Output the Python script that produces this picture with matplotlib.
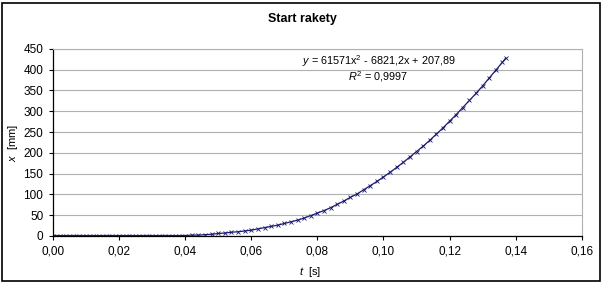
import matplotlib.pyplot as plt
from matplotlib.patches import Rectangle

plt.rcParams['font.family'] = ['Liberation Sans', 'DejaVu Sans']
plt.rcParams['mathtext.fontset'] = 'custom'
plt.rcParams['mathtext.it'] = 'Liberation Sans:italic'
plt.rcParams['mathtext.rm'] = 'Liberation Sans'

# time [s] and height [mm]
t = [0.000, 0.002, 0.004, 0.006, 0.008, 0.010, 0.012, 0.014, 0.016, 0.018,
     0.020, 0.022, 0.024, 0.026, 0.028, 0.030, 0.032, 0.034, 0.036, 0.038,
     0.040, 0.042, 0.044, 0.046, 0.048, 0.050, 0.052, 0.054, 0.056, 0.058,
     0.060, 0.062, 0.064, 0.066, 0.068, 0.070, 0.072, 0.074, 0.076, 0.078,
     0.080, 0.082, 0.084, 0.086, 0.088, 0.090, 0.092, 0.094, 0.096, 0.098,
     0.100, 0.102, 0.104, 0.106, 0.108, 0.110, 0.112, 0.114, 0.116, 0.118,
     0.120, 0.122, 0.124, 0.126, 0.128, 0.130, 0.132, 0.134, 0.136, 0.137]
x = [1, 1, 1, 1, 1, 1, 1, 1, 1, 1,
     1, 1, 1, 1, 1, 1, 1, 1, 1, 1,
     1, 2, 2, 3, 4, 6, 7, 9, 10, 12,
     14, 17, 20, 23, 26, 30, 34, 38, 43, 49,
     55, 61, 68, 76, 84, 93, 101, 111, 121, 131,
     142, 153, 165, 177, 190, 203, 216, 230, 245, 260,
     276, 292, 309, 326, 343, 361, 380, 399, 418, 428]

xticks = [0.00, 0.02, 0.04, 0.06, 0.08, 0.10, 0.12, 0.14, 0.16]
yticks = [0, 50, 100, 150, 200, 250, 300, 350, 400, 450]

fig = plt.figure(figsize=(6.05, 2.86), dpi=100)
ax = fig.add_axes([0.0876, 0.175, 0.874, 0.654])

ax.plot(t, x, color='#1a1a6e', lw=0.9, marker='x', ms=2.2, mew=0.6)

ax.set_xlim(0, 0.16)
ax.set_ylim(0, 450)
ax.set_xticks(xticks)
ax.set_xticklabels([('%.2f' % v).replace('.', ',') for v in xticks])
ax.set_yticks(yticks)
ax.tick_params(labelsize=8.5, length=3, width=0.8, direction='out', pad=4)
ax.yaxis.grid(True, color='#b0b0b0', lw=0.8)
ax.set_axisbelow(True)
for s in ['top', 'right']:
    ax.spines[s].set_color('#b0b0b0')
for s in ['left', 'bottom']:
    ax.spines[s].set_linewidth(0.9)

ax.set_xlabel('$t$  [s]', fontsize=8)
ax.set_ylabel('$x$  [mm]', fontsize=8)
ax.xaxis.set_label_coords(0.487, -0.155)
ax.yaxis.set_label_coords(-0.062, 0.5)

fig.text(0.5, 0.935, 'Start rakety', ha='center', va='center', fontsize=9, fontweight='bold')

ax.text(0.0985, 420, '$y$ = 61571x$^2$ - 6821,2x + 207,89', ha='center', va='center', fontsize=7.8)
ax.text(0.0985, 383, '$R^2$ = 0,9997', ha='center', va='center', fontsize=7.8)

fig.patches.append(Rectangle((0.004, 0.017), 0.987, 0.972, transform=fig.transFigure,
                             fill=False, edgecolor='black', lw=1.2))

fig.savefig('out.png', dpi=100)
